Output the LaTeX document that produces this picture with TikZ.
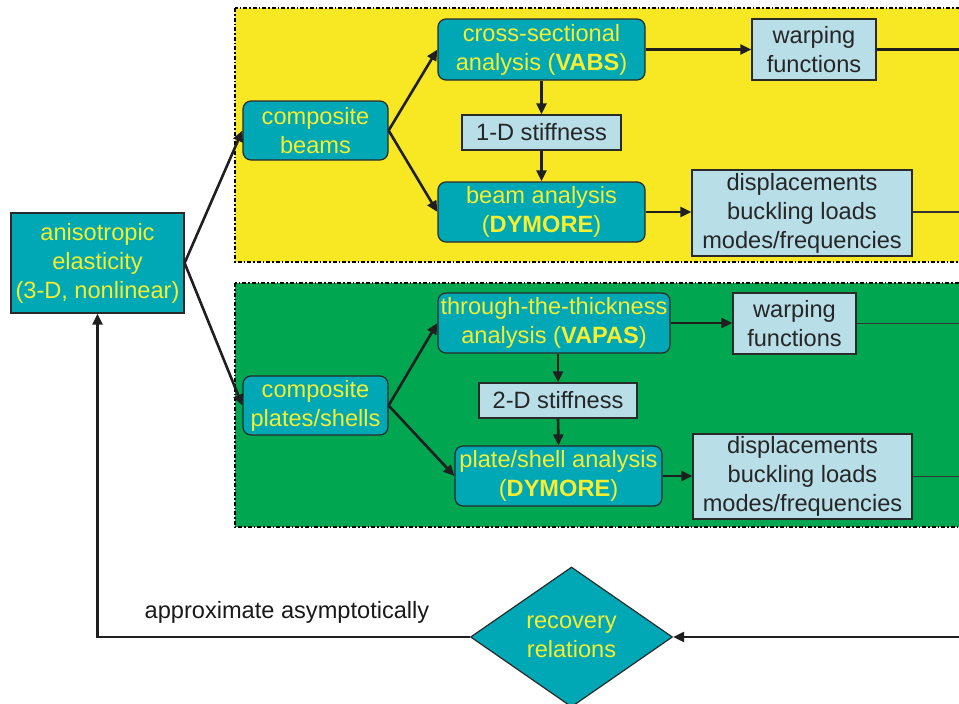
\documentclass[tikz,border=0pt]{standalone}
\usepackage{fontspec}
\setmainfont{Liberation Sans}
\usetikzlibrary{shapes.geometric,arrows.meta}
\definecolor{bgyellow}{HTML}{F7E823}
\definecolor{bggreen}{HTML}{00A650}
\definecolor{teal}{HTML}{00A7B5}
\definecolor{lblue}{HTML}{B8DEE8}
\definecolor{tyellow}{HTML}{F6EE2E}
\definecolor{edgegray}{HTML}{2A2A2A}
\tikzset{
  bigfont/.style={font=\fontsize{23.6}{29}\selectfont},
  procbox/.style={draw=edgegray, line width=1.2pt, fill=teal, text=tyellow, rounded corners=8pt, align=center, inner sep=0pt, bigfont},
  squarebox/.style={draw=edgegray, line width=1.2pt, fill=teal, text=tyellow, align=center, inner sep=0pt, bigfont},
  infobox/.style={draw=edgegray, line width=1.2pt, fill=lblue, text=black!85, align=center, inner sep=0pt, bigfont},
  flow/.style={line width=2.6pt, draw=black!88, -{Triangle[length=11pt,width=10pt]}},
  thickline/.style={line width=2.6pt, draw=black!88},
  thinline/.style={line width=1.3pt, draw=black!80},
  region/.style={draw=black, line width=1.3pt, dash pattern=on 4pt off 2pt on 1.5pt off 2pt},
}
\begin{document}
\begin{tikzpicture}[x=1pt,y=-1pt]
\useasboundingbox (0,0) rectangle (959,704);
\clip (0,0) rectangle (959,704);
\fill[white] (0,0) rectangle (959,704);
% regions
\path[region, fill=bgyellow] (235,8) rectangle (975,262);
\path[region, fill=bggreen] (235,283) rectangle (975,527);

% nodes
\node[squarebox, minimum width=173pt, minimum height=100pt] (aniso) at (97.5,263) {anisotropic\\elasticity\\(3-D, nonlinear)};
\node[procbox, minimum width=145pt, minimum height=59pt] (cbeams) at (315.5,130.5) {composite\\beams};
\node[procbox, minimum width=207pt, minimum height=61pt] (cross) at (541.5,49.5) {cross-sectional\\analysis (\textbf{VABS})};
\node[infobox, minimum width=159pt, minimum height=35pt] (stiff1) at (541.5,132.5) {1-D stiffness};
\node[procbox, minimum width=207pt, minimum height=60pt] (beamA) at (541.5,212) {beam analysis\\(\textbf{DYMORE})};
\node[infobox, minimum width=124pt, minimum height=61pt] (warp1) at (814,49.5) {warping\\functions};
\node[infobox, minimum width=220pt, minimum height=86pt] (disp1) at (802,213) {displacements\\buckling loads\\modes/frequencies};

\node[procbox, minimum width=145pt, minimum height=59pt] (cplates) at (315.5,405.5) {composite\\plates/shells};
\node[procbox, minimum width=232pt, minimum height=60pt] (thru) at (554,323) {through-the-thickness\\analysis (\textbf{VAPAS})};
\node[infobox, minimum width=158pt, minimum height=35pt] (stiff2) at (558,400.5) {2-D stiffness};
\node[procbox, minimum width=207pt, minimum height=60pt] (plateA) at (558.5,476) {plate/shell analysis\\(\textbf{DYMORE})};
\node[infobox, minimum width=123pt, minimum height=61pt] (warp2) at (794.5,323.5) {warping\\functions};
\node[infobox, minimum width=219pt, minimum height=85pt] (disp2) at (802.5,476.5) {displacements\\buckling loads\\modes/frequencies};

\node[diamond, aspect=1.443, draw=edgegray, line width=1.2pt, fill=teal, text=tyellow, align=center, inner sep=0pt, minimum width=202pt, minimum height=140pt, bigfont] (recov) at (571.5,637) {recovery\\relations};

\node[bigfont, text=black!90, inner sep=0pt] (approx) at (287,612) {approximate asymptotically};

% free-end coordinates at right edge
\coordinate (e1) at (965,49.5);
\coordinate (e2) at (965,212);
\coordinate (e3) at (965,323.5);
\coordinate (e4) at (965,476.5);
\coordinate (e5) at (965,637);
\coordinate (bend) at (97.5,637);

% connectors
\draw[flow] (aniso.east) -- (cbeams.west);
\draw[flow] (aniso.east) -- (cplates.west);
\draw[flow] (cbeams.east) -- (cross.west);
\draw[flow] (cbeams.east) -- (beamA.west);
\draw[flow] (cross.south) -- (stiff1.north);
\draw[flow] (stiff1.south) -- (beamA.north);
\draw[flow] (cross.east) -- (warp1.west);
\draw[flow] (beamA.east) -- (beamA.east -| disp1.west);
\draw[thickline] (warp1.east) -- (e1);
\draw[thinline] (disp1.east |- e2) -- (e2);

\draw[flow] (cplates.east) -- (thru.west);
\draw[flow] (cplates.east) -- (plateA.west);
\draw[flow] (thru.south -| stiff2.north) -- (stiff2.north);
\draw[flow] (stiff2.south) -- (plateA.north);
\draw[flow] (thru.east) -- (thru.east -| warp2.west);
\draw[flow] (plateA.east) -- (plateA.east -| disp2.west);
\draw[thinline] (warp2.east) -- (e3);
\draw[thinline] (disp2.east) -- (e4);

\draw[flow] (e5) -- (recov.east);
\draw[flow] (recov.west) -- (bend) -- (aniso.south);
\end{tikzpicture}
\end{document}
